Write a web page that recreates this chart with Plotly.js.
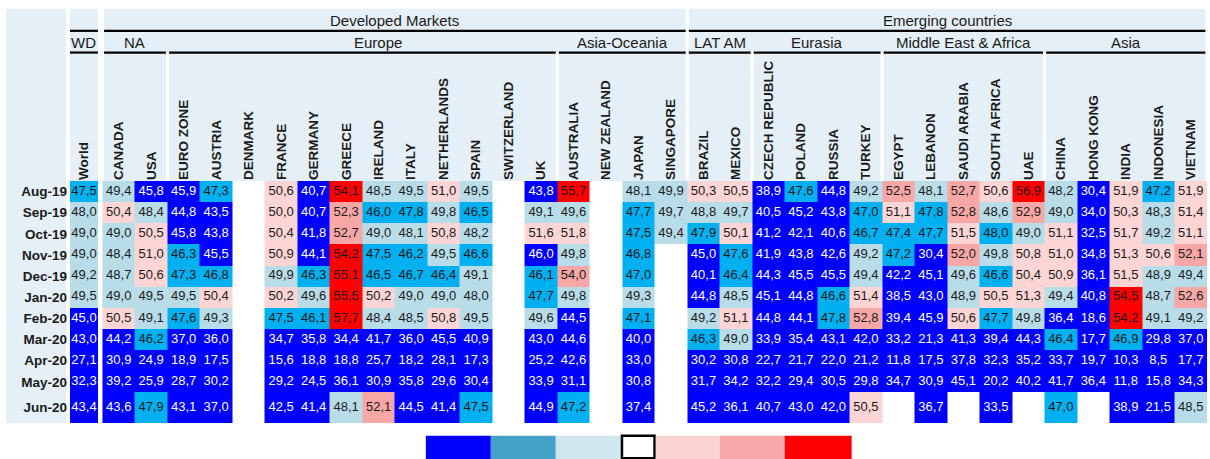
<!DOCTYPE html>
<html>
<head>
<meta charset="utf-8">
<script src="https://cdn.plot.ly/plotly-3.0.1.min.js"></script>
<style>html,body{margin:0;padding:0;background:#fff}#chart{width:1210px;height:459px}</style>
</head>
<body>
<div id="chart"></div>
<script>
// ---------------- DATA ----------------
const countries = ["World","CANADA","USA","EURO ZONE","AUSTRIA","DENMARK","FRANCE","GERMANY","GREECE","IRELAND","ITALY","NETHERLANDS","SPAIN","SWITZERLAND","UK","AUSTRALIA","NEW ZEALAND","JAPAN","SINGAPORE","BRAZIL","MEXICO","CZECH REPUBLIC","POLAND","RUSSIA","TURKEY","EGYPT","LEBANON","SAUDI ARABIA","SOUTH AFRICA","UAE","CHINA","HONG KONG","INDIA","INDONESIA","VIETNAM"];
const months = ["Aug-19","Sep-19","Oct-19","Nov-19","Dec-19","Jan-20","Feb-20","Mar-20","Apr-20","May-20","Jun-20"];

const v_Aug19 = [47.5,49.4,45.8,45.9,47.3,null,50.6,40.7,54.1,48.5,49.5,51.0,49.5,null,43.8,55.7,null,48.1,49.9,50.3,50.5,38.9,47.6,44.8,49.2,52.5,48.1,52.7,50.6,56.9,48.2,30.4,51.9,47.2,51.9];
const v_Sep19 = [48.0,50.4,48.4,44.8,43.5,null,50.0,40.7,52.3,46.0,47.8,49.8,46.5,null,49.1,49.6,null,47.7,49.7,48.8,49.7,40.5,45.2,43.8,47.0,51.1,47.8,52.8,48.6,52.9,49.0,34.0,50.3,48.3,51.4];
const v_Oct19 = [49.0,49.0,50.5,45.8,43.8,null,50.4,41.8,52.7,49.0,48.1,50.8,48.2,null,51.6,51.8,null,47.5,49.4,47.9,50.1,41.2,42.1,40.6,46.7,47.4,47.7,51.5,48.0,49.0,51.1,32.5,51.7,49.2,51.1];
const v_Nov19 = [49.0,48.4,51.0,46.3,45.5,null,50.9,44.1,54.2,47.5,46.2,49.5,46.6,null,46.0,49.8,null,46.8,null,45.0,47.6,41.9,43.8,42.6,49.2,47.2,30.4,52.0,49.8,50.8,51.0,34.8,51.3,50.6,52.1];
const v_Dec19 = [49.2,48.7,50.6,47.3,46.8,null,49.9,46.3,55.1,46.5,46.7,46.4,49.1,null,46.1,54.0,null,47.0,null,40.1,46.4,44.3,45.5,45.5,49.4,42.2,45.1,49.6,46.6,50.4,50.9,36.1,51.5,48.9,49.4];
const v_Jan20 = [49.5,49.0,49.5,49.5,50.4,null,50.2,49.6,55.5,50.2,49.0,49.0,48.0,null,47.7,49.8,null,49.3,null,44.8,48.5,45.1,44.8,46.6,51.4,38.5,43.0,48.9,50.5,51.3,49.4,40.8,54.5,48.7,52.6];
const v_Feb20 = [45.0,50.5,49.1,47.6,49.3,null,47.5,46.1,57.7,48.4,48.5,50.8,49.5,null,49.6,44.5,null,47.1,null,49.2,51.1,44.8,44.1,47.8,52.8,39.4,45.9,50.6,47.7,49.8,36.4,18.6,54.2,49.1,49.2];
const v_Mar20 = [43.0,44.2,46.2,37.0,36.0,null,34.7,35.8,34.4,41.7,36.0,45.5,40.9,null,43.0,44.6,null,40.0,null,46.3,49.0,33.9,35.4,43.1,42.0,33.2,21.3,41.3,39.4,44.3,46.4,17.7,46.9,29.8,37.0];
const v_Apr20 = [27.1,30.9,24.9,18.9,17.5,null,15.6,18.8,18.8,25.7,18.2,28.1,17.3,null,25.2,42.6,null,33.0,null,30.2,30.8,22.7,21.7,22.0,21.2,11.8,17.5,37.8,32.3,35.2,33.7,19.7,10.3,8.5,17.7];
const v_May20 = [32.3,39.2,25.9,28.7,30.2,null,29.2,24.5,36.1,30.9,35.8,29.6,30.4,null,33.9,31.1,null,30.8,null,31.7,34.2,32.2,29.4,30.5,29.8,34.7,30.9,45.1,20.2,40.2,41.7,36.4,11.8,15.8,34.3];
const v_Jun20 = [43.4,43.6,47.9,43.1,37.0,null,42.5,41.4,48.1,52.1,44.5,41.4,47.5,null,44.9,47.2,null,37.4,null,45.2,36.1,40.7,43.0,42.0,50.5,null,36.7,null,33.5,null,47.0,null,38.9,21.5,48.5];

const values = [v_Aug19,v_Sep19,v_Oct19,v_Nov19,v_Dec19,v_Jan20,v_Feb20,v_Mar20,v_Apr20,v_May20,v_Jun20];

// colour-class thresholds (class -3..3) and cells whose class differs from the rounded value shown
const classBreaks = [46, 48, 50, 52, 54];
const classOverrides = [[2,28,-2],[3,14,-3],[4,15,2]]; // [row, column, class]

// header groups (column index ranges)
const groupsTop = [{label:"Developed Markets", from:1, to:18},{label:"Emerging countries", from:19, to:34}];
const groupsSub = [{label:"WD",from:0,to:0},{label:"NA",from:1,to:2},{label:"Europe",from:3,to:14},{label:"Asia-Oceania",from:15,to:18},{label:"LAT AM",from:19,to:20},{label:"Eurasia",from:21,to:24},{label:"Middle East & Africa",from:25,to:29},{label:"Asia",from:30,to:34}];

// ---------------- STYLE / LAYOUT ----------------
const cellColors = ["#0000FF","#00B0F0","#B9DCE9","#FFFFFF","#FCD5D4","#F7A7A6","#FF0000"];
const keyColors  = ["#0000FF","#45A0C8","#CFE6EF","#FFFFFF","#FBD3D2","#F9A9A9","#FF0000"];
const headerBg = "#E5EFF7";
const FONT = "Liberation Sans, Arial, sans-serif";

const W=1210,H=459,L=70,R=2.5,T=181,B=36.3;
const plotW=W-L-R, plotH=H-T-B;
const nUnits=35, unitPx=plotW/nUnits;
const fx = px => (px-L)/plotW;
const fy = py => (H-B-py)/plotH;
const uPx = u => L + u*unitPx;

function classOf(v){
  let c=-3;
  for(const b of classBreaks){ if(v>=b) c++; else break; }
  if(c>=0) c++; // skip the neutral white class
  return Math.min(c,3);
}
const levels = values.map(r=>r.map(v=> v==null?null:classOf(v)));
classOverrides.forEach(([i,j,c])=>{levels[i][j]=c;});

const worldW = 0.86;
const xLeft = countries.map((c,j)=> j===0?0:j);
const xRight = countries.map((c,j)=> j===0?worldW:j+1);
const xMid = countries.map((c,j)=>(xLeft[j]+xRight[j])/2);
const yEdges=[0];
months.forEach((m,i)=>yEdges.push(yEdges[i]+(i===months.length-1?1.45:1)));
const yMid = months.map((m,i)=>(yEdges[i]+yEdges[i+1])/2);

const cs=[];
cellColors.forEach((c,k)=>{ const a=k/7, b=(k+1)/7; cs.push([a,c]); cs.push([b,c]); });

const hmBase = {type:'heatmap', y:yEdges, zmin:-3.5, zmax:3.5, colorscale:cs, showscale:false, hoverinfo:'skip'};
const traces = [
  Object.assign({}, hmBase, {x:[xLeft[0], xRight[0]], z: levels.map(r=>[r[0]])}),
  Object.assign({}, hmBase, {x: countries.slice(1).map((c,j)=>j+1).concat([nUnits]), z: levels.map(r=>r.slice(1))})
];

const tx=[],ty=[],tt=[],tc=[];
values.forEach((r,i)=>r.forEach((v,j)=>{
  if(v==null) return;
  tx.push(xMid[j]); ty.push(yMid[i]);
  tt.push(v.toFixed(1).replace('.',','));
  tc.push(levels[i][j]===-3 ? '#FFFFFF' : '#1A1A1A');
}));
traces.push({type:'scatter', mode:'text', x:tx, y:ty, text:tt, textposition:'middle center',
  textfont:{family:FONT, size:13, color:tc}, hoverinfo:'skip', cliponaxis:false, showlegend:false});

const shapes=[], annotations=[];
const rect=(x0,x1,y0,y1,fill,line)=>shapes.push({type:'rect', xref:'paper', yref:'paper', x0:fx(x0), x1:fx(x1), y0:fy(y1), y1:fy(y0), fillcolor:fill, line: line||{width:0}, layer:'below'});
const hline=(x0,x1,y)=>shapes.push({type:'line', xref:'paper', yref:'paper', x0:fx(x0), x1:fx(x1), y0:fy(y), y1:fy(y), line:{color:'#000', width:2.2}});

// row-label column background
rect(6,66,9,423,headerBg);
const gap=1.6;
const gL = g => uPx(xLeft[g.from]) + (g.from===0?0:gap);
const gR = g => uPx(xRight[g.to]) - gap;
const yTopBg=9, yLine1=31, yLine2=52.7, yHdrBot=181;
// world column header
rect(gL(groupsSub[0]), uPx(xRight[0]), yTopBg, yHdrBot, headerBg);
hline(gL(groupsSub[0]), uPx(xRight[0]), yLine1);
groupsTop.forEach(g=>{
  rect(gL(g), gR(g), yTopBg, yLine2, headerBg);
  hline(gL(g), gR(g), yLine1);
  annotations.push({xref:'paper', yref:'paper', x:fx((gL(g)+gR(g))/2), y:fy(20.5), text:g.label, showarrow:false,
    xanchor:'center', yanchor:'middle', font:{family:FONT, size:15, color:'#1A1A1A'}});
});
groupsSub.forEach((g,k)=>{
  const x0 = k===0 ? uPx(xLeft[0]) : gL(g);
  const x1 = k===0 ? uPx(xRight[0]) : gR(g);
  if(k>0) rect(x0, x1, yLine2, yHdrBot, headerBg);
  hline(x0, x1, yLine2);
  annotations.push({xref:'paper', yref:'paper', x:fx((x0+x1)/2), y:fy(43), text:g.label, showarrow:false,
    xanchor:'center', yanchor:'middle', xshift: g.label==="Europe"?16:0, font:{family:FONT, size:15, color:'#1A1A1A'}});
});

// colour key
const keyWidths=[65,65,65,35,64,65,67];
let kx=426;
keyColors.forEach((c,k)=>{
  const line = c==="#FFFFFF" ? {color:'#000', width:2.5} : {width:0};
  const x0 = c==="#FFFFFF" ? kx+1.2 : kx, x1 = c==="#FFFFFF" ? kx+keyWidths[k]-1.2 : kx+keyWidths[k];
  shapes.push({type:'rect', xref:'paper', yref:'paper', x0:fx(x0), x1:fx(x1), y0:fy(c==="#FFFFFF"?457.8:459), y1:fy(435.5), fillcolor:c, line:line, layer:'above'});
  kx+=keyWidths[k];
});

const tickFont={family:FONT, size:13.5, color:'#1A1A1A', weight:'bold'};
const layout = {
  width:W, height:H, margin:{l:L, r:R, t:T, b:B, pad:0},
  paper_bgcolor:'#FFFFFF', plot_bgcolor:'#FFFFFF', showlegend:false,
  xaxis:{range:[0,nUnits], side:'top', tickmode:'array', tickvals:xMid, ticktext:countries, tickangle:-90,
    tickfont:tickFont, ticks:'', showgrid:false, zeroline:false, showline:false, fixedrange:true, automargin:false, ticklabelstandoff:0},
  yaxis:{range:[yEdges[yEdges.length-1],0], tickmode:'array', tickvals:yMid, ticktext:months, tickfont:tickFont,
    ticks:'', showgrid:false, zeroline:false, showline:false, fixedrange:true, automargin:false, ticklabelstandoff:2},
  shapes:shapes, annotations:annotations
};
Plotly.newPlot('chart', traces, layout, {displayModeBar:false, staticPlot:true});
</script>
</body>
</html>
